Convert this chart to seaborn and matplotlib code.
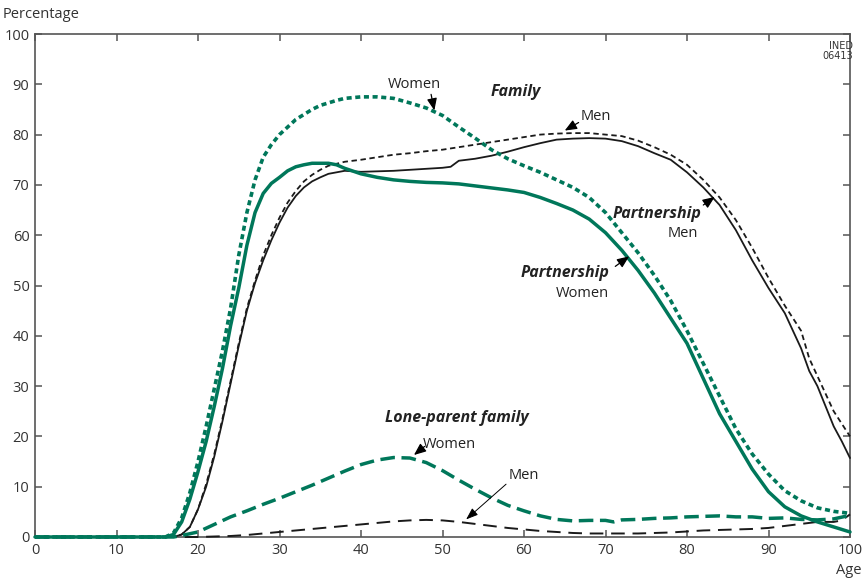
import matplotlib
matplotlib.use("Agg")
import matplotlib.pyplot as plt
import seaborn as sns
import pandas as pd

# ---------------- data ----------------
fw_age = [0, 16, 17, 18, 19, 20, 21, 22, 23, 24, 25, 26, 27, 28, 29, 30, 31, 32, 33, 34, 35, 36, 37, 38,
          40, 42, 44, 46, 48, 50, 52, 54, 56, 58, 60, 62, 64, 66, 68, 70, 72, 74, 76, 78, 80, 82, 84,
          86, 88, 90, 92, 94, 96, 98, 100]
fw_val = [0, 0, 0.8, 3.8, 8.8, 15, 22, 29.5, 37, 45.5, 56, 64.5, 71, 75.5, 78, 80, 81.5, 83, 84, 85, 85.8,
          86.3, 86.8, 87.2, 87.5, 87.5, 87.2, 86.3, 85.3, 83.8, 81.5, 79.3, 77, 75.2, 73.8, 72.5, 71, 69.5,
          67.5, 64.5, 60.5, 56.5, 52, 47, 41, 34.5, 28, 21.5, 16.5, 12.5, 9.2, 7.2, 5.8, 5.1, 4.7]

pw_age = [0, 16, 17, 18, 19, 20, 21, 22, 23, 24, 25, 26, 27, 28, 29, 30, 31, 32, 33, 34, 36, 37, 38, 40,
          42, 44, 46, 48, 50, 52, 54, 56, 58, 60, 62, 64, 66, 68, 70, 72, 74, 76, 78, 80, 82, 84, 86, 88,
          90, 92, 94, 96, 98, 100]
pw_val = [0, 0, 0.5, 3, 7.5, 13, 19, 26, 33.5, 42, 49.5, 58, 64.5, 68.3, 70.3, 71.5, 72.8, 73.6, 74, 74.3,
          74.3, 74, 73.3, 72.2, 71.5, 71, 70.7, 70.5, 70.4, 70.2, 69.8, 69.4, 69, 68.5, 67.5, 66.3, 65,
          63.2, 60.5, 57, 53, 48.5, 43.5, 38.5, 31.5, 24.5, 19, 13.5, 9, 6, 4.2, 3, 2, 1]

fm_age = [0, 17, 18, 19, 20, 21, 22, 23, 24, 25, 26, 27, 28, 29, 30, 31, 32, 33, 34, 35, 36, 38, 40, 42,
          44, 46, 48, 50, 52, 54, 56, 58, 60, 62, 64, 66, 68, 70, 72, 74, 76, 78, 80, 82, 84, 86, 88, 90,
          92, 93, 94, 95, 96, 97, 98, 99, 100]
fm_val = [0, 0, 0.5, 2, 5.5, 10.5, 16.5, 23.5, 31, 38.5, 45.5, 51, 56, 60, 63.5, 66.5, 68.8, 70.7, 72, 73,
          73.8, 74.6, 75, 75.5, 76, 76.3, 76.7, 77, 77.5, 78, 78.5, 79, 79.5, 80, 80.2, 80.3, 80.3, 80,
          79.7, 78.8, 77.5, 76, 74, 71, 67.5, 63, 57.5, 51.5, 46, 43.5, 41, 35.5, 32, 28.5, 25, 22.5, 20]

pm_age = [0, 17, 18, 19, 20, 21, 22, 23, 24, 25, 26, 27, 28, 29, 30, 31, 32, 33, 34, 35, 36, 38, 40, 42,
          44, 46, 48, 50, 51, 52, 54, 56, 58, 60, 62, 64, 66, 68, 70, 72, 74, 76, 78, 80, 82, 84, 86, 88,
          90, 92, 93, 94, 95, 96, 97, 98, 99, 100]
pm_val = [0, 0, 0.5, 2, 5.5, 10, 16, 23, 30.5, 38, 45, 50.5, 55, 59, 62.5, 65.5, 67.8, 69.5, 70.7, 71.5,
          72.2, 72.8, 72.6, 72.7, 72.8, 73, 73.2, 73.4, 73.6, 74.8, 75.2, 75.8, 76.6, 77.5, 78.3, 79,
          79.2, 79.3, 79.2, 78.7, 77.7, 76.3, 75, 72.5, 69.5, 66, 61, 55, 49.5, 44.5, 41, 37.5, 33, 30,
          26, 22, 19, 15.7]

lw_age = [0, 17, 18, 20, 22, 24, 26, 28, 30, 32, 34, 36, 38, 40, 42, 44, 46, 48, 50, 52, 54, 56, 58, 60,
          62, 64, 66, 68, 70, 71, 72, 74, 76, 78, 80, 82, 84, 86, 88, 90, 92, 94, 96, 98, 100]
lw_val = [0, 0, 0.3, 1.0, 2.5, 4.0, 5.2, 6.5, 7.7, 9.0, 10.3, 11.7, 13.1, 14.4, 15.3, 15.8, 15.7, 14.8,
          13.2, 11.3, 9.5, 7.8, 6.3, 5.2, 4.2, 3.5, 3.2, 3.3, 3.3, 3.0, 3.4, 3.5, 3.7, 3.8, 4.0, 4.1, 4.2,
          4.0, 4.0, 3.7, 3.8, 3.5, 3.4, 3.6, 4.3]

lm_age = [0, 20, 22, 24, 26, 28, 30, 32, 34, 36, 38, 40, 42, 44, 46, 48, 50, 52, 54, 56, 58, 60, 62, 64,
          66, 68, 70, 72, 74, 76, 78, 80, 82, 84, 86, 88, 90, 92, 94, 96, 98, 99, 100]
lm_val = [0, 0, 0.1, 0.2, 0.4, 0.7, 1.0, 1.3, 1.6, 1.9, 2.2, 2.5, 2.8, 3.1, 3.3, 3.4, 3.3, 3.0, 2.6, 2.2,
          1.8, 1.5, 1.2, 1.0, 0.8, 0.7, 0.7, 0.7, 0.7, 0.8, 0.9, 1.1, 1.3, 1.4, 1.5, 1.6, 1.8, 2.2, 2.6,
          3.0, 3.0, 3.3, 4.5]

x_ticks = [0, 10, 20, 30, 40, 50, 60, 70, 80, 90, 100]
y_ticks = [0, 10, 20, 30, 40, 50, 60, 70, 80, 90, 100]

GREEN = "#00775a"
BLACK = "#1a1a1a"
AX = "#555555"

# ---------------- figure ----------------
sns.set_theme(style="white")
plt.rcParams["font.family"] = ["Open Sans", "DejaVu Sans"]

fig = plt.figure(figsize=(8.66, 5.80), dpi=100)
ax = fig.add_axes([35 / 866, 1 - 537 / 580, (850 - 35) / 866, (537 - 34) / 580])

series = [
    (fm_age, fm_val, BLACK, 1.3, (0, (3.0, 2.0))),
    (pm_age, pm_val, BLACK, 1.3, "solid"),
    (lm_age, lm_val, BLACK, 1.4, (0, (7, 4))),
    (lw_age, lw_val, GREEN, 2.5, (0, (4.2, 1.9))),
    (pw_age, pw_val, GREEN, 2.5, "solid"),
    (fw_age, fw_val, GREEN, 2.6, (0, (1.4, 1.0))),
]
for a, v, c, lw, ls in series:
    df = pd.DataFrame({"age": a, "pct": v})
    sns.lineplot(data=df, x="age", y="pct", ax=ax, color=c, linewidth=lw,
                 linestyle=ls, estimator=None, sort=False, clip_on=False)

ax.set_xlim(0, 100)
ax.set_ylim(0, 100)
ax.set_xticks(x_ticks)
ax.set_yticks(y_ticks)
ax.set_xlabel("")
ax.set_ylabel("")
for s in ax.spines.values():
    s.set_color(AX)
    s.set_linewidth(1.2)
    s.set_visible(True)
    s.set_zorder(0.5)
ax.tick_params(direction="in", length=5, width=1.1, color=AX, labelsize=10.5,
               labelcolor="#333333", top=True, right=True, bottom=True, left=True,
               pad=4)

# ---------------- annotations ----------------
tc = "#222222"
arrow_kw = dict(arrowstyle="-|>,head_length=0.6,head_width=0.25", color="black", lw=0.9,
                shrinkA=0, shrinkB=0)

ax.text(46.6, 90.0, "Women", ha="center", va="center", fontsize=10.5, color=tc)
ax.annotate("", xy=(49.0, 84.8), xytext=(48.6, 88.0), arrowprops=arrow_kw)

ax.text(59.0, 88.4, "Family", ha="center", va="center", fontsize=11.5, color=tc,
        fontweight="bold", fontstyle="italic")

ax.text(68.8, 83.5, "Men", ha="center", va="center", fontsize=10.5, color=tc)
ax.annotate("", xy=(65.0, 80.8), xytext=(66.7, 82.4), arrowprops=arrow_kw)

ax.text(76.3, 64.3, "Partnership", ha="center", va="center", fontsize=11.5, color=tc,
        fontweight="bold", fontstyle="italic")
ax.text(79.5, 60.3, "Men", ha="center", va="center", fontsize=10.5, color=tc)
ax.annotate("", xy=(83.4, 67.6), xytext=(82.0, 66.0), arrowprops=arrow_kw)

ax.text(65.0, 52.5, "Partnership", ha="center", va="center", fontsize=11.5, color=tc,
        fontweight="bold", fontstyle="italic")
ax.text(67.2, 48.5, "Women", ha="center", va="center", fontsize=10.5, color=tc)
ax.annotate("", xy=(72.9, 55.8), xytext=(71.2, 53.8), arrowprops=arrow_kw)

ax.text(51.7, 23.7, "Lone-parent family", ha="center", va="center", fontsize=11.5, color=tc,
        fontweight="bold", fontstyle="italic")
ax.text(50.9, 18.4, "Women", ha="center", va="center", fontsize=10.5, color=tc)
ax.annotate("", xy=(46.5, 16.3), xytext=(47.8, 18.0), arrowprops=arrow_kw)

ax.text(60.0, 12.3, "Men", ha="center", va="center", fontsize=10.5, color=tc)
ax.annotate("", xy=(52.9, 3.5), xytext=(57.8, 10.5),
            arrowprops=dict(arrowstyle="-|>,head_length=0.6,head_width=0.22", color="black",
                            lw=0.7, shrinkA=0, shrinkB=0))

fig.text(3 / 866, 1 - 15 / 580, "Percentage", ha="left", va="center", fontsize=10.5, color="#333333")
fig.text(862 / 866, 1 - 570 / 580, "Age", ha="right", va="center", fontsize=10.5, color="#333333")
fig.text(853 / 866, 1 - 51 / 580, "INED\n06413", ha="right", va="center", fontsize=7,
         color="#333333", linespacing=1.0,
         family=["Liberation Sans Narrow", "DejaVu Sans"])

fig.savefig("out.png", dpi=100)
